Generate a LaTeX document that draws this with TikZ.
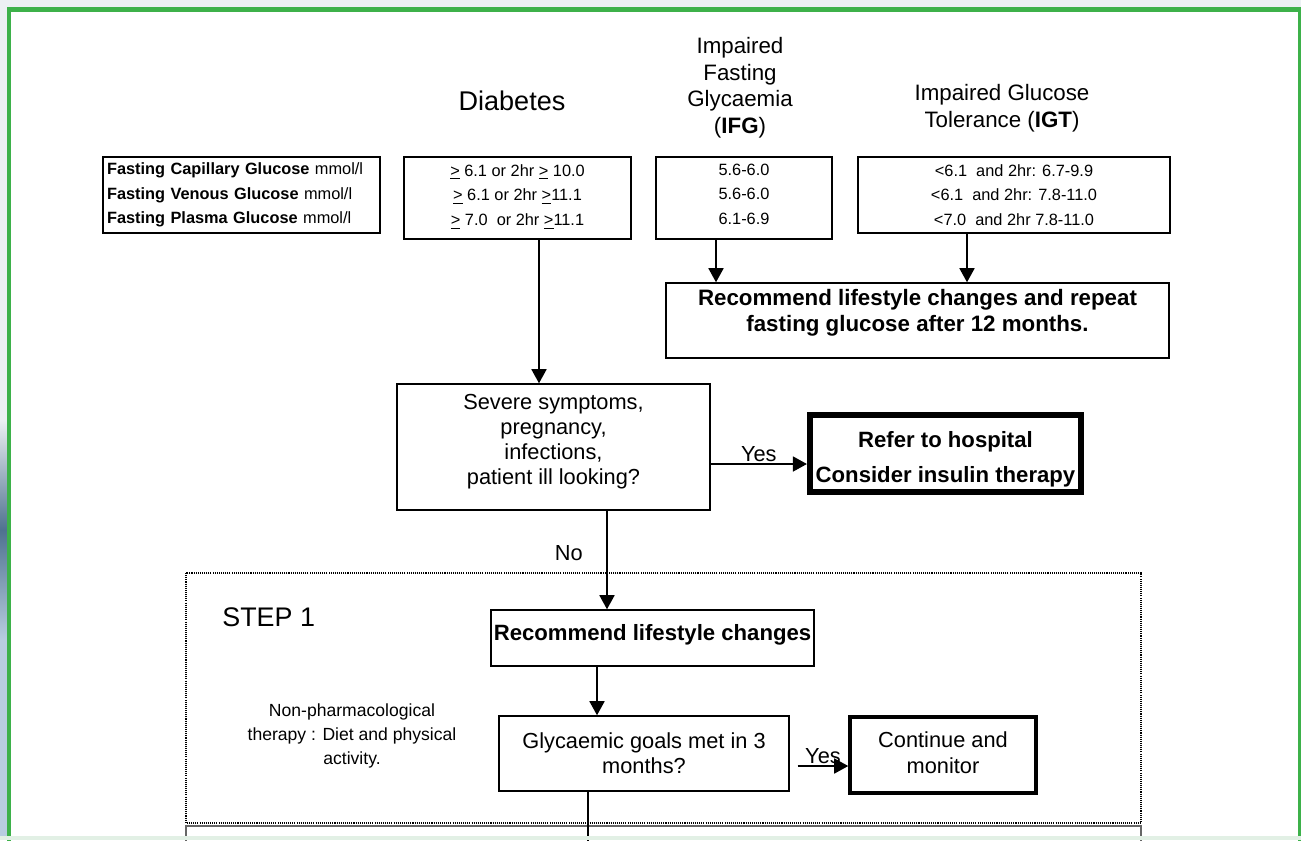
\documentclass[tikz,border=0pt]{standalone}
\usepackage{fontspec}
\setmainfont{Liberation Sans}
\usetikzlibrary{arrows.meta}
\usetikzlibrary{positioning}
\definecolor{framegreen}{RGB}{61,177,74}
\definecolor{pagegray}{RGB}{236,240,243}
\definecolor{stripblue}{RGB}{184,205,224}
\definecolor{darkblue}{RGB}{79,114,144}
\definecolor{mint}{RGB}{226,240,229}
\newcommand{\tablefont}{\fontsize{9.3}{14}\selectfont}
\newcommand{\mainfont}{\fontsize{12.4}{14.4}\selectfont}
\newcommand{\headfont}{\fontsize{12.7}{15.1}\selectfont}
\newcommand{\gte}{\underline{>}}
\tikzset{
box/.style 2 args={draw, line width=0.85pt, minimum width=#1, minimum height=#2, inner sep=1pt, align=center},
heavybox/.style 2 args={draw, line width=#2, minimum width=#1, inner sep=1pt, align=center},
arr/.style={-{Triangle[length=8pt,width=8.5pt]}, line width=1.1pt},
frame/.style={draw=framegreen, line width=2.5pt},
stepframe/.style={line width=0.8pt, dash pattern=on 0.6pt off 0.6pt},
}

\begin{document}
\begin{tikzpicture}[x=0.02cm, y=-0.02cm]
% page around the chart
\useasboundingbox (0,0) rectangle (1301,840);
\clip (0,0) rectangle (1301,840);
\fill[pagegray] (0,0) rectangle (1301,840);
\fill[top color=pagegray, bottom color=darkblue] (0,420) rectangle (9,530);
\fill[top color=darkblue, bottom color=stripblue] (0,530) rectangle (9,640);
\fill[stripblue] (0,640) rectangle (9,840);
\fill[white] (9,9) rectangle (1300,840);
\draw[frame] (9,850) -- (9,9.3) -- (1300,9.3) -- (1300,850);

% headings
\node[font=\fontsize{15.4}{18}\selectfont] (hdiab) at (512,101) {Diabetes};
\node[font=\headfont, align=center] (hifg) at (740,87.5) {Impaired\\Fasting\\Glycaemia\\(\textbf{IFG})};
\node[font=\headfont, align=center] (higt) at (1002,108) {Impaired Glucose\\Tolerance (\textbf{IGT})};

% criteria table
\node[box={5.54cm}{1.52cm}, font=\tablefont, text width=5.38cm, align=left] (units) at (241.5,195)
  {\textbf{Fasting Capillary Glucose} mmol/l\\\textbf{Fasting Venous Glucose} mmol/l\\\textbf{Fasting Plasma Glucose} mmol/l};
\node[box={4.54cm}{1.64cm}, font=\tablefont] (diab) at (517.5,198)
  {\gte{} 6.1 or 2hr \gte{} 10.0\\\gte{} 6.1 or 2hr \gte11.1\\\gte{} 7.0\ \ or 2hr \gte11.1\\[-10.6pt]};
\node[box={3.52cm}{1.64cm}, font=\tablefont] (ifg) at (744,198) {5.6-6.0\\5.6-6.0\\6.1-6.9\\[-9.5pt]};
\node[box={6.24cm}{1.52cm}, font=\tablefont] (igt) at (1014,195)
  {<6.1\ \ and 2hr: 6.7-9.9\\<6.1\ \ and 2hr: 7.8-11.0\\<7.0\ \ and 2hr 7.8-11.0};

\node[box={10.06cm}{1.5cm}, font=\fontsize{12.7}{14.7}\selectfont\bfseries] (repeat) at (917.5,320.5)
  {Recommend lifestyle changes and repeat\\fasting glucose after 12 months.\rule[-11.7pt]{0pt}{0pt}};

% decision
\node[box={6.26cm}{2.52cm}, font=\fontsize{12.4}{14.2}\selectfont] (severe) at (553.5,447)
  {Severe symptoms,\\pregnancy,\\infections,\\patient ill looking?\rule[-8.3pt]{0pt}{0pt}};
\node[heavybox={5.42cm}{3.5pt}, minimum height=1.54cm, font=\fontsize{12.6}{19.8}\selectfont\bfseries] (refer) at (945.5,453.5)
  {\rule{0pt}{16pt}Refer to hospital\\Consider insulin therapy};

% step 1
\draw[stepframe] (186,573) rectangle (1141,823);
\draw[line width=0.8pt, gray!80!black] (186,850) -- (186,826) -- (1141,826) -- (1141,850);
\node[font=\fontsize{15.3}{18}\selectfont, anchor=west, inner sep=0pt] (step) at (222,617) {STEP 1};
\node[font=\fontsize{10}{13.5}\selectfont, align=center] (nonpharm) at (352,736)
  {Non-pharmacological\\therapy : Diet and physical\\activity.};
\node[box={6.46cm}{1.12cm}, font=\fontsize{12.6}{14.4}\selectfont\bfseries] (lifestyle) at (652.5,638)
  {Recommend lifestyle changes\\[-7.6pt]};
\node[box={5.8cm}{1.5cm}, font=\mainfont] (goals) at (644,753.5) {Glycaemic goals met in 3\\months?};
\node[heavybox={3.72cm}{2pt}, minimum height=1.52cm, font=\mainfont] (cont) at (943,755) {Continue and\\monitor\\[-11.5pt]};
\coordinate (goalsout) at ([xshift=-1.12cm]goals.south |- 0,850);

% connectors
\draw[arr] ([xshift=0.43cm]diab.south) -- ([xshift=0.43cm]diab.south |- severe.north);
\draw[arr] ([xshift=-0.56cm]ifg.south) -- ([xshift=-0.56cm]ifg.south |- repeat.north);
\draw[arr] ([xshift=-0.94cm]igt.south) -- ([xshift=-0.94cm]igt.south |- repeat.north);
\draw[arr] ([yshift=-0.34cm]severe.east) -- node[above, inner sep=0.8pt, font=\mainfont] (yes1) {Yes} ([yshift=-0.34cm]severe.east -| refer.west);
\draw[arr] ([xshift=1.07cm]severe.south) -- node[pos=0.43, left=0.35cm, font=\mainfont] (no1) {No} ([xshift=1.07cm]severe.south |- lifestyle.north);
\draw[arr] ([xshift=-1.11cm]lifestyle.south) -- ([xshift=-1.11cm]lifestyle.south |- goals.north);
\draw[arr] ([xshift=0.16cm, yshift=-0.25cm]goals.east) -- node[above, inner sep=0.5pt, font=\mainfont] (yes2) {Yes} ([yshift=-0.25cm]goals.east -| cont.west);
\draw[line width=1.1pt] ([xshift=-1.12cm]goals.south) -- (goalsout);

\fill[mint] (0,836) rectangle (1301,840);
\end{tikzpicture}
\end{document}
